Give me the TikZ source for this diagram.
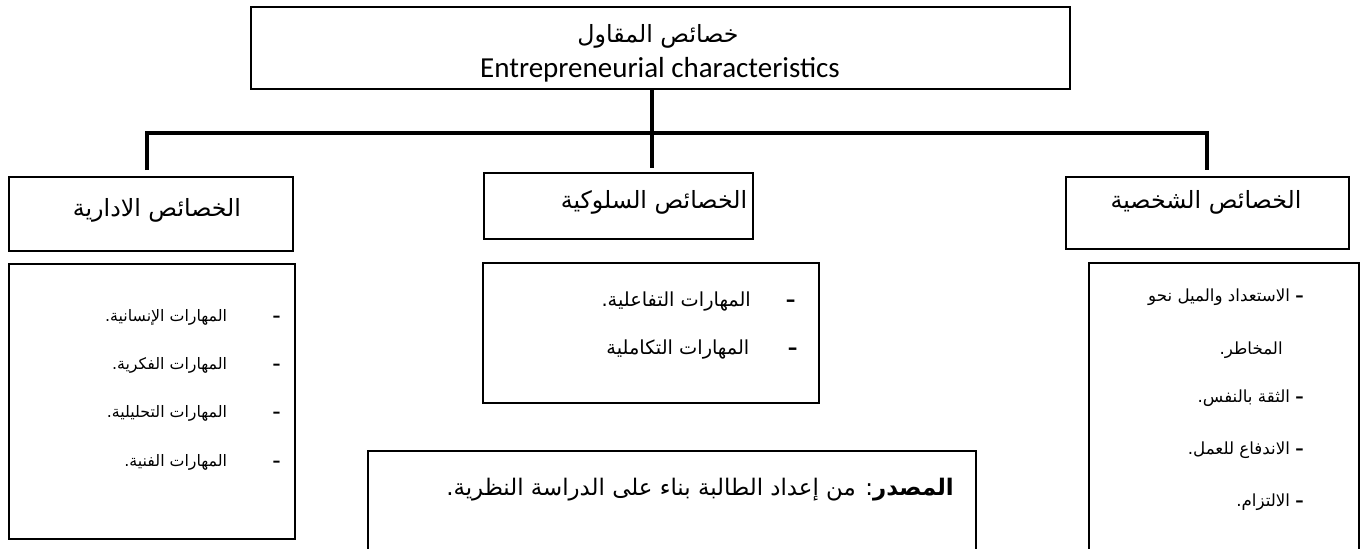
\documentclass[tikz,border=0pt]{standalone}
\usepackage{fontspec}
\setmainfont{Carlito}
\newfontfamily\arabicfont[Script=Arabic]{DejaVu Sans}
\TeXXeTstate=1
\usetikzlibrary{positioning}

\begin{document}
\begin{tikzpicture}[x=0.2mm, y=-0.2mm,
			box/.style={draw, rectangle, anchor=north west, inner sep=0pt, line width=0.9pt},
			listbox/.style={box, line width=1.4pt},
			bar/.style={line width=2pt},
			head/.style={font=\arabicfont\fontsize{13.5}{15}\selectfont, inner sep=0pt},
			item/.style={font=\arabicfont\fontsize{#1}{12}\selectfont, inner sep=0pt, anchor=east},
			item/.default=9]
			%Bildbereich
			\useasboundingbox (0,0) rectangle (1365,549);
			\clip (0,0) rectangle (1365,549);
			% Oberster Kasten
			\node[box, line width=1.1pt, minimum width=16.38cm, minimum height=1.64cm] (top) at (250,6) {};
			\node[head] (topAr) at (658,36) {\beginR خصائص المقاول\endR};
			\node[font=\fontsize{16.5}{18}\selectfont, inner sep=0pt] (topEn) at (660,70) {Entrepreneurial characteristics};
			% Verbindungen
			\coordinate (busL) at (147,133);
			\coordinate (busM) at (652,133);
			\coordinate (busR) at (1207,133);
			\coordinate (dropL) at (147,170);
			\coordinate (dropM) at (652,168);
			\coordinate (dropR) at (1207,170);
			\draw[bar] (dropL) -- (busL) -- (busR) -- (dropR);
			\draw[bar] (busM |- top.south) -- (dropM);
			% Kopfkaesten
			\node[box, minimum width=5.68cm, minimum height=1.48cm] (hdrL) at (8,176) {};
			\node[box, minimum width=5.38cm, minimum height=1.32cm] (hdrM) at (483,172) {};
			\node[box, minimum width=5.66cm, minimum height=1.44cm] (hdrR) at (1065,176) {};
			\node[head] (hdrLtxt) at (157,210) {\beginR الخصائص الادارية\endR};
			\node[head] (hdrMtxt) at (654,202) {\beginR الخصائص السلوكية\endR};
			\node[head] (hdrRtxt) at (1206,202) {\beginR الخصائص الشخصية\endR};
			% Listenkaesten
			\node[listbox, minimum width=5.72cm, minimum height=5.5cm] (boxL) at (8,263) {};
			\node[listbox, minimum width=6.72cm, minimum height=2.8cm] (boxM) at (482,262) {};
			\node[listbox, minimum width=5.4cm, minimum height=6cm] (boxR) at (1088,262) {};
			% Listen
			\foreach \i/\yy/\txt in {1/317/{المهارات الإنسانية.}, 2/365/{المهارات الفكرية.}, 3/413/{المهارات التحليلية.}, 4/462/{المهارات الفنية.}}
				\node[item] (adm\i) at (281,\yy) {\beginR\textbf{–}\hspace{26pt}\txt\endR};
			\node[item=11] (beh1) at (796,302) {\beginR\textbf{–}\hspace{20pt}المهارات التفاعلية.\endR};
			\node[item=11] (beh2) at (798,350) {\beginR\textbf{–}\hspace{22pt}المهارات التكاملية\endR};
			\node[item=9.5] (per1) at (1304,297) {\beginR\textbf{–}\hspace{3pt}الاستعداد والميل نحو\endR};
			\node[item=9.5] (per2) at (1283,350) {\beginR المخاطر.\endR};
			\foreach \i/\yy/\txt in {3/398/{الثقة بالنفس.}, 4/450/{الاندفاع للعمل.}, 5/502/{الالتزام.}}
				\node[item=9.5] (per\i) at (1304,\yy) {\beginR\textbf{–}\hspace{3pt}\txt\endR};
			% Quelle
			\node[listbox, minimum width=12.16cm, minimum height=2.2cm] (src) at (367,450) {};
			\node[font=\arabicfont\fontsize{13}{15}\selectfont, inner sep=0pt] (srcTxt) at (700,490) {\beginR\textbf{المصدر}: من إعداد الطالبة بناء على الدراسة النظرية.\endR};
		\end{tikzpicture}
\end{document}
